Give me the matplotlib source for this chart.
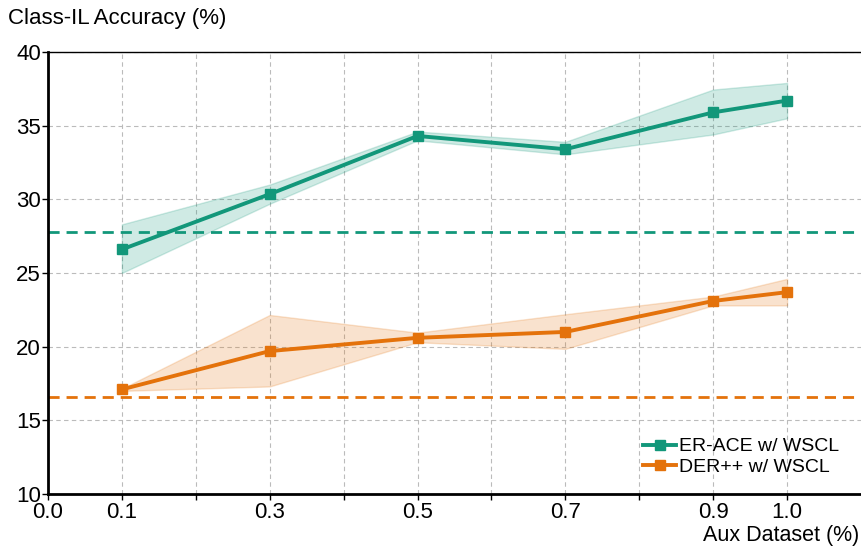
import matplotlib.pyplot as plt
import numpy as np

plt.rcParams['font.family'] = ['Liberation Sans', 'DejaVu Sans']

# aux dataset fractions
aux_frac = [0.1, 0.3, 0.5, 0.7, 0.9, 1.0]

# ER-ACE w/ WSCL: mean and spread
er_mean = [26.6, 30.35, 34.3, 33.4, 35.9, 36.7]
er_low = [25.0, 29.7, 34.0, 33.05, 34.4, 35.5]
er_high = [28.3, 31.0, 34.6, 33.9, 37.45, 37.9]
er_base = 27.8

# DER++ w/ WSCL: mean and spread
der_mean = [17.1, 19.7, 20.6, 21.0, 23.1, 23.7]
der_low = [17.0, 17.3, 20.3, 19.85, 22.8, 22.8]
der_high = [17.15, 22.15, 20.95, 22.2, 23.4, 24.6]
der_base = 16.6

xticks = [0.0, 0.1, 0.2, 0.3, 0.4, 0.5, 0.6, 0.7, 0.8, 0.9, 1.0]
xticklabels = ['0.0', '0.1', '', '0.3', '', '0.5', '', '0.7', '', '0.9', '1.0']
yticks = [10, 15, 20, 25, 30, 35, 40]

green = '#12977a'
orange = '#e4720b'

fig = plt.figure(figsize=(8.61, 5.5), dpi=100)
ax = fig.add_axes([0.0557, 0.1018, 0.9443, 0.8037])

ax.fill_between(aux_frac, er_low, er_high, color=green, alpha=0.2, lw=1)
ax.fill_between(aux_frac, der_low, der_high, color=orange, alpha=0.2, lw=1)
ax.plot(aux_frac, er_mean, color=green, lw=2.8, marker='s', ms=7,
        label='ER-ACE w/ WSCL')
ax.plot(aux_frac, der_mean, color=orange, lw=2.8, marker='s', ms=7,
        label='DER++ w/ WSCL')
ax.axhline(er_base, color=green, lw=2, ls=(0, (4, 2.5)))
ax.axhline(der_base, color=orange, lw=2, ls=(0, (4, 2.5)))

ax.set_xlim(0, 1.1)
ax.set_ylim(10, 40)
ax.set_xticks(xticks)
ax.set_xticklabels(xticklabels)
ax.set_yticks(yticks)
ax.tick_params(axis='both', labelsize=16, length=4, width=1, pad=1)
ax.tick_params(axis='x', pad=2)
ax.grid(True, ls=(0, (4, 3)), color='#bbbbbb', lw=0.8)
ax.set_axisbelow(True)

for side in ['left', 'bottom']:
    ax.spines[side].set_linewidth(2)
ax.spines['top'].set_linewidth(1)
ax.spines['right'].set_visible(False)

fig.text(0.009, 0.967, 'Class-IL Accuracy (%)', fontsize=16, ha='left', va='center')
fig.text(0.998, 0.026, 'Aux Dataset (%)', fontsize=15.5, ha='right', va='center')

ax.legend(loc='lower right', bbox_to_anchor=(0.99, 0.01), frameon=False,
          fontsize=14, handlelength=1.7, handletextpad=0.15, labelspacing=0.15,
          borderpad=0.2)

fig.savefig('out.png', dpi=100)
